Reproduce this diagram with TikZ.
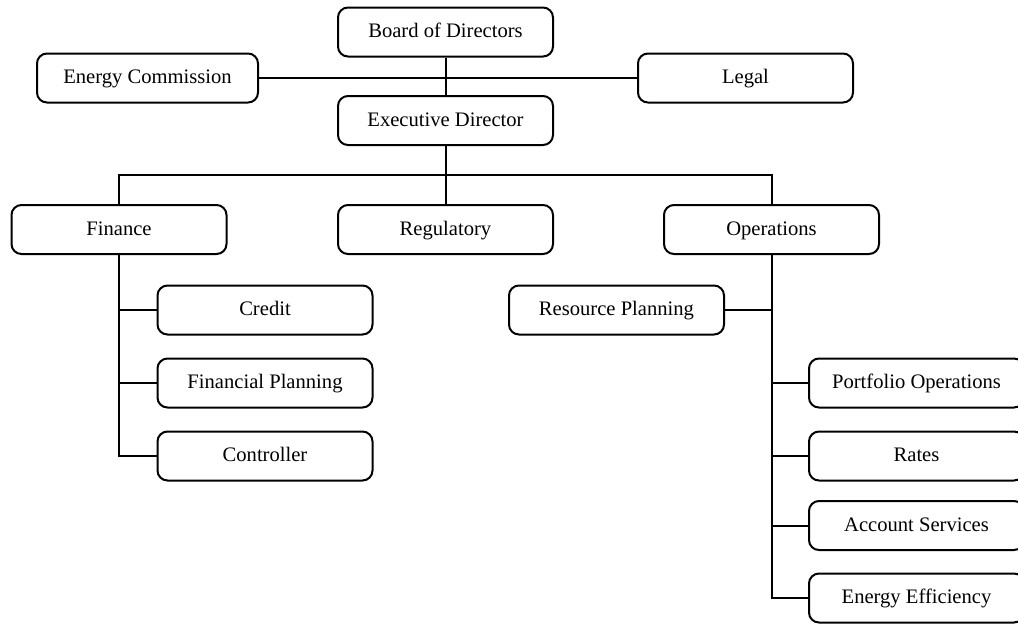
\documentclass[tikz,border=0pt]{standalone}
\usepackage{fontspec}
\setmainfont{Liberation Serif}
\begin{document}
\begin{tikzpicture}[x=0.5pt,y=-0.5pt,line width=1pt,
    every node/.style={draw,rounded corners=5pt,minimum width=107.5pt,minimum height=24.5pt,inner sep=0pt,
      text height=1.5ex,text depth=0.3ex,font=\fontsize{10.3}{12}\selectfont}]
            \useasboundingbox (0,0) rectangle (1018,623);
            \node (BD) at (445.5,32) {Board of Directors};
            \node[minimum width=110.5pt] (EC) at (147.5,78) {Energy Commission};
            \node (LG) at (745.5,78) {Legal};
            \node (ED) at (445.5,120.5) {Executive Director};
            \node (F) at (119,229.5) {Finance};
            \node (REG) at (445.5,229.5) {Regulatory};
            \node (OP) at (771.5,229.5) {Operations};
            \node (CR) at (265,310) {Credit};
            \node (FP) at (265,383) {Financial Planning};
            \node (CT) at (265,456) {Controller};
            \node (RP) at (616.5,310) {Resource Planning};
            \node (PO) at (916.5,383) {Portfolio Operations};
            \node (RT) at (916.5,456) {Rates};
            \node (AS) at (916.5,525.5) {Account Services};
            \node (EE) at (916.5,598) {Energy Efficiency};
            \coordinate (bus) at (445.5,175);
            \path [-] (BD) edge (ED);
            \path [-] (EC) edge (LG);
            \path [-] (ED) edge (REG);
            \draw (F.north) |- (bus) -| (OP.north);
            \draw (F.south) |- (CR.west);
            \draw (F.south) |- (FP.west);
            \draw (F.south) |- (CT.west);
            \draw (OP.south) |- (RP.east);
            \draw (OP.south) |- (PO.west);
            \draw (OP.south) |- (RT.west);
            \draw (OP.south) |- (AS.west);
            \draw (OP.south) |- (EE.west);
        \end{tikzpicture}
\end{document}
